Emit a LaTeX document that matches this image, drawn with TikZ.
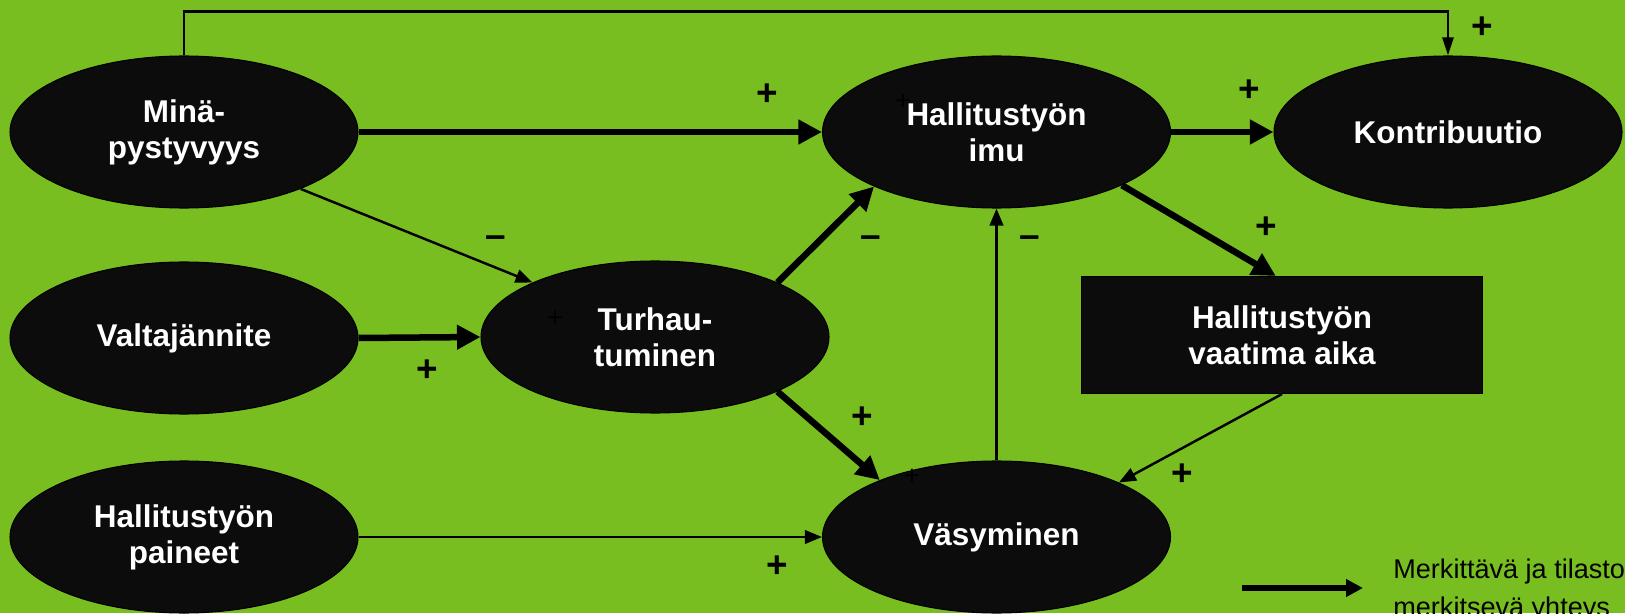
\documentclass[tikz,border=0pt]{standalone}
\usepackage{fontspec}
\setmainfont{Liberation Sans}
\usetikzlibrary{shapes.geometric,arrows.meta}
\definecolor{tausta}{RGB}{120,190,32}
\definecolor{musta}{RGB}{12,12,12}
\tikzset{
  tekija/.style={ellipse,fill=musta,draw=black,line width=0.6pt,
    minimum width=6.96cm,minimum height=3.04cm,inner sep=0pt,
    text=white,align=center,font=\fontsize{17.9}{20.5}\selectfont\bfseries},
  laatikko/.style={rectangle,fill=musta,draw=black,line width=0.6pt,
    minimum width=8.02cm,minimum height=2.34cm,inner sep=0pt,
    text=white,align=center,font=\fontsize{17.9}{20.5}\selectfont\bfseries},
  vahva/.style={line width=0.13cm,-{Triangle[length=0.47cm,width=0.47cm]}},
  heikko/.style={line width=1.4pt,-{Triangle[length=0.34cm,width=0.27cm]}},
  merkki/.style={inner sep=0pt,font=\fontsize{21}{21}\selectfont\bfseries},
  ohut/.style={inner sep=0pt,text=black,font=\fontsize{15}{15}\selectfont}
}
\begin{document}
\begin{tikzpicture}
\fill[tausta] (0,0) rectangle (32.5,12.26);
\useasboundingbox (0,0) rectangle (32.5,12.26);
\clip (0,0) rectangle (32.5,12.26);

\node[tekija] (mina) at (3.68,9.62) {Minä-\\pystyvyys};
\node[tekija] (valta) at (3.68,5.50) {Valtajännite};
\node[tekija] (paineet) at (3.68,1.52) {Hallitustyön\\paineet};
\node[tekija] (turha) at (13.10,5.52) {Turhau-\\tuminen};
\node[tekija] (imu) at (19.93,9.62) {Hallitustyön\\imu};
\node[tekija] (vasy) at (19.93,1.52) {Väsyminen};
\node[tekija] (kontr) at (28.96,9.62) {Kontribuutio};
\node[laatikko] (aika) at (25.64,5.56) {Hallitustyön\\vaatima aika};

\node[ohut] (p0) at (18.06,10.22) {+};
\node[ohut] (p00) at (11.10,5.88) {+};
\node[ohut] (p000) at (18.24,2.72) {+};

\draw[vahva] (mina.east) -- (imu.west);
\draw[heikko] (mina.-26) -- (turha.156);
\draw[vahva] (valta.east) -- (turha.west);
\draw[vahva] (turha.24) -- (imu.204);
\draw[vahva] (turha.-24) -- (vasy.154);
\draw[heikko] (paineet.east) -- (vasy.west);
\draw[heikko] (vasy.north) -- (imu.south);
\draw[vahva] (imu.east) -- (kontr.west);
\draw[vahva] (imu.-23) -- (aika.96);
\draw[heikko] (aika.south) -- (vasy.24);
\draw[line width=1.4pt,-{Triangle[length=0.36cm,width=0.22cm]}] (mina.north) -- ++(0,0.88) -| (kontr.north);

\node[merkki] (p1) at (15.34,10.36) {+};
\node[merkki] (m1) at (9.92,7.42) {–};
\node[merkki] (m2) at (17.42,7.42) {–};
\node[merkki] (m3) at (20.60,7.42) {–};
\node[merkki] (p2) at (8.54,4.84) {+};
\node[merkki] (p3) at (17.24,3.90) {+};
\node[merkki] (p4) at (15.54,0.92) {+};
\node[merkki] (p5) at (24.98,10.44) {+};
\node[merkki] (p6) at (25.32,7.70) {+};
\node[merkki] (p7) at (23.64,2.76) {+};
\node[merkki] (p8) at (29.64,11.70) {+};

\coordinate (selite1) at (24.84,0.50);
\coordinate (selite2) at (27.26,0.50);
\draw[line width=0.13cm,-{Triangle[length=0.34cm,width=0.34cm]}] (selite1) -- (selite2);
\node[anchor=base west,inner sep=0pt,font=\fontsize{15.4}{18.8}\selectfont] (teksti1) at (27.86,0.70) {Merkittävä ja tilastollisesti};
\node[anchor=base west,inner sep=0pt,font=\fontsize{15.4}{18.8}\selectfont] (teksti2) at (27.86,-0.06) {merkitsevä yhteys};
\end{tikzpicture}
\end{document}
